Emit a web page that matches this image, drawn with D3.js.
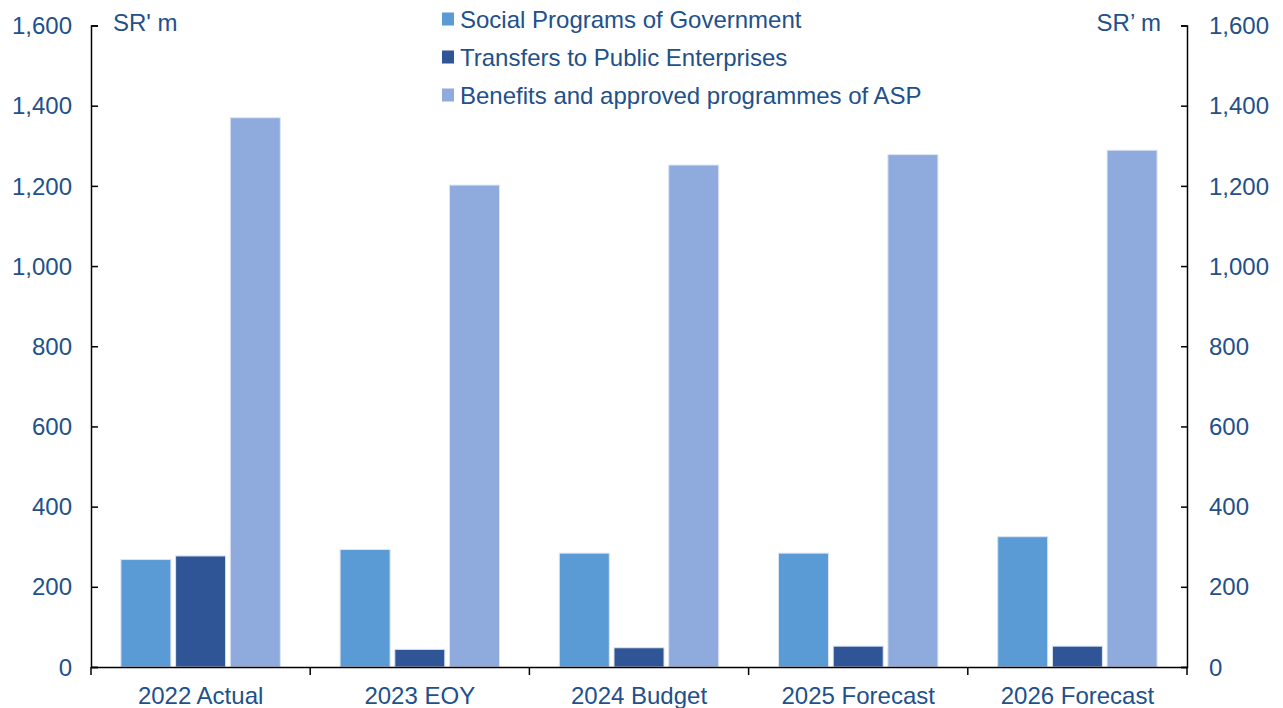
<!DOCTYPE html>
<html>
<head>
<meta charset="utf-8">
<script src="https://cdn.jsdelivr.net/npm/d3@7"></script>
<style>
  html, body { margin: 0; padding: 0; background: #fff; }
  svg { display: block; font-family: "Liberation Sans", Arial, sans-serif; }
</style>
</head>
<body>
<svg id="chart" width="1283" height="708"></svg>
<script>
// Categories and series (SR' m)
const categories = ["2022 Actual", "2023 EOY", "2024 Budget", "2025 Forecast", "2026 Forecast"];
const seriesNames = ["Social Programs of Government", "Transfers to Public Enterprises", "Benefits and approved programmes of ASP"];
const socialPrograms = [268, 293, 284, 284, 325];
const transfersPE = [277, 44, 48, 52, 52];
const benefitsASP = [1370, 1202, 1252, 1278, 1289];
const yTicks = [0, 200, 400, 600, 800, 1000, 1200, 1400, 1600];
const colors = ["#5B9BD5", "#2F5597", "#8FAADC"];
const textColor = "#22508A";
const fontSize = 24;

const series = [socialPrograms, transfersPE, benefitsASP];

const svg = d3.select("#chart");
const plotLeft = 91, plotRight = 1187, plotTop = 25.5, plotBottom = 667;

const x = d3.scaleBand().domain(categories).range([plotLeft, plotRight]).paddingInner(0).paddingOuter(0);
const y = d3.scaleLinear().domain([0, 1600]).range([plotBottom, plotTop]);
const barW = 50, gap = 4.7;
const groupW = 3 * barW + 2 * gap;
const xSub = d3.scaleBand().domain(d3.range(series.length))
  .range([0, groupW]).paddingInner(gap / (barW + gap));

// Bars
series.forEach((vals, si) => {
  svg.append("g").selectAll("rect").data(vals).join("rect")
    .attr("x", (d, i) => x(categories[i]) + x.bandwidth() / 2 - groupW / 2 + xSub(si))
    .attr("y", d => y(d))
    .attr("width", xSub.bandwidth())
    .attr("height", d => plotBottom - y(d))
    .attr("fill", colors[si])
    .attr("stroke", "#dbe5f3")
    .attr("stroke-width", 1);
});

// Left axis
const yLeft = svg.append("g").attr("transform", `translate(${plotLeft},0)`)
  .call(d3.axisRight(y).tickValues(yTicks).tickSize(7).tickFormat(""));
yLeft.select(".domain").attr("stroke", "#000").attr("stroke-width", 1.5);
yLeft.selectAll(".tick line").attr("stroke", "#000").attr("stroke-width", 1.5);

svg.append("g").selectAll("text").data(yTicks).join("text")
  .attr("x", 72).attr("y", d => y(d)).attr("dy", "0.36em")
  .attr("text-anchor", "end").attr("font-size", fontSize).attr("fill", textColor)
  .text(d => d3.format(",")(d));

// Right axis
const yRight = svg.append("g").attr("transform", `translate(${plotRight},0)`)
  .call(d3.axisLeft(y).tickValues(yTicks).tickSize(6).tickFormat(""));
yRight.select(".domain").attr("stroke", "#000").attr("stroke-width", 1.5);
yRight.selectAll(".tick line").attr("stroke", "#000").attr("stroke-width", 1.5);

svg.append("g").selectAll("text").data(yTicks).join("text")
  .attr("x", 1209).attr("y", d => y(d)).attr("dy", "0.36em")
  .attr("text-anchor", "start").attr("font-size", fontSize).attr("fill", textColor)
  .text(d => d3.format(",")(d));

// Category axis
const xAxis = svg.append("g").attr("transform", `translate(0,${plotBottom})`)
  .call(d3.axisBottom(x).tickSize(0).tickFormat(""));
xAxis.select(".domain").attr("stroke", "#000").attr("stroke-width", 1.5);
xAxis.selectAll(".tick").remove();
const bounds = categories.map(c => x(c)).concat([plotRight]);
svg.append("g").selectAll("line").data(bounds).join("line")
  .attr("x1", d => d).attr("x2", d => d)
  .attr("y1", plotBottom).attr("y2", plotBottom + 8)
  .attr("stroke", "#000").attr("stroke-width", 1.5);

svg.append("g").selectAll("text").data(categories).join("text")
  .attr("x", d => x(d) + x.bandwidth() / 2).attr("y", 704)
  .attr("text-anchor", "middle").attr("font-size", fontSize).attr("fill", textColor)
  .text(d => d);

// Unit labels
svg.append("text").attr("x", 113).attr("y", 31).attr("font-size", fontSize)
  .attr("fill", textColor).text("SR' m");
svg.append("text").attr("x", 1161).attr("y", 31).attr("font-size", fontSize)
  .attr("text-anchor", "end").attr("fill", textColor).text("SR\u2019 m");

// Legend
const legend = svg.append("g").selectAll("g").data(seriesNames).join("g")
  .attr("transform", (d, i) => `translate(442,${19 + i * 38})`);
legend.append("rect").attr("x", 0).attr("y", -6.5).attr("width", 12).attr("height", 13)
  .attr("fill", (d, i) => colors[i]);
legend.append("text").attr("x", 18).attr("y", 0).attr("dy", "0.36em")
  .attr("font-size", fontSize).attr("fill", textColor).text(d => d);
</script>
</body>
</html>
